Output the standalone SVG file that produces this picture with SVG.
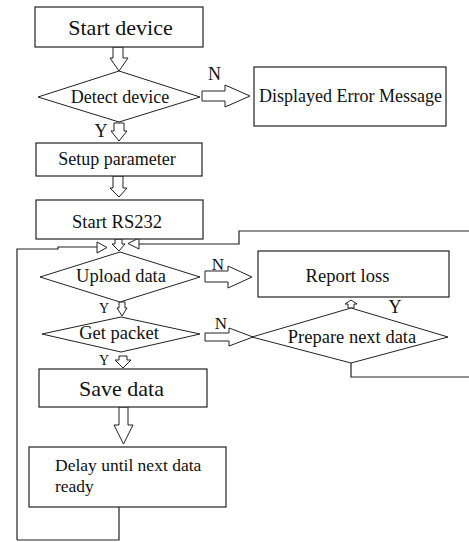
<svg xmlns="http://www.w3.org/2000/svg" width="469" height="542" viewBox="0 0 469 542">
<style>
.box{fill:#fff;stroke:#222;stroke-width:1.2}
.dia{fill:#fff;stroke:#222;stroke-width:1}
.arr{fill:#fff;stroke:#222;stroke-width:1;stroke-linejoin:miter}
.ln{fill:none;stroke:#222;stroke-width:1.2}
text{font-family:"Liberation Serif","Times New Roman",serif;fill:#111}
.c{text-anchor:middle}
</style>
<rect x="0" y="0" width="469" height="542" fill="#fff"/>
<g id="connectors">
<polygon class="arr" points="113,47 123,47 123,58 128,58 119,71 110,58 113,58"/>
<polygon class="arr" points="202,91 225,91 225,85 250,96 225,107 225,101 202,101"/>
<polygon class="arr" points="114,123 124,123 124,131 127,131 119,141 111,131 114,131"/>
<polygon class="arr" points="113,176 123,176 123,188 127,188 119,197 110,188 113,188"/>
<polygon class="arr" points="115,239 122,239 122,244 125,244 119,251 112,244 115,244"/>
<polyline class="ln" points="17,540 17,249 58,249 58,247 97,247"/>
<polygon class="arr" points="97,242 107,247.5 97,253"/>
<polyline class="ln" points="139,244 239,244 239,231 469,231"/>
<polygon class="arr" points="139,238 128,243.5 139,249"/>
<polygon class="arr" points="205,271 228,271 228,266 252,277 228,288 228,282 205,282"/>
<polygon class="arr" points="119,302 125,302 125,308 127,308 122,316 117,308 119,308"/>
<polygon class="arr" points="205,333 229,333 229,328 253,337 229,346 229,341 205,341"/>
<polygon class="arr" points="351,300 357,304 354,304 354,308 348,308 348,304 345,304"/>
<polyline class="ln" points="351,363 351,377 469,377"/>
<polygon class="arr" points="119,356 127,356 127,360 131,360 123,368 115,360 119,360"/>
<polygon class="arr" points="119,407 128,407 128,425 133,425 123.5,444 114,425 119,425"/>
<polyline class="ln" points="119,507 119,540 17,540"/>
<text x="214.5" y="80" class="c" font-size="18">N</text>
<text x="101" y="137" class="c" font-size="18">Y</text>
<text x="218" y="270" class="c" font-size="17">N</text>
<text x="104" y="313" class="c" font-size="14">Y</text>
<text x="221" y="329" class="c" font-size="17">N</text>
<text x="104" y="365" class="c" font-size="14">Y</text>
<text x="395" y="313" class="c" font-size="18">Y</text>
</g>
<g id="start-device">
<rect class="box" x="35" y="7" width="168" height="40"/>
<text x="120.5" y="35" class="c" font-size="22">Start device</text>
</g>
<g id="detect-device">
<polygon class="dia" points="119,71 200,97 119,122 38,97"/>
<text x="120" y="103" class="c" font-size="18">Detect device</text>
</g>
<g id="error-message">
<rect class="box" x="254" y="67" width="192" height="59"/>
<text x="350.5" y="102" class="c" font-size="18">Displayed Error Message</text>
</g>
<g id="setup-parameter">
<rect class="box" x="36" y="143" width="166" height="33"/>
<text x="117" y="165" class="c" font-size="18">Setup parameter</text>
</g>
<g id="start-rs232">
<rect class="box" x="36" y="200" width="167" height="39"/>
<text x="117" y="228" class="c" font-size="18.5">Start RS232</text>
</g>
<g id="upload-data">
<polygon class="dia" points="120,252 200,277 120,302 40,277"/>
<text x="121" y="282" class="c" font-size="18.5">Upload data</text>
</g>
<g id="report-loss">
<rect class="box" x="258" y="251" width="191" height="46"/>
<text x="347.5" y="282" class="c" font-size="18.5">Report loss</text>
</g>
<g id="get-packet">
<polygon class="dia" points="121,317 200,334 121,352 42,334"/>
<text x="119" y="339" class="c" font-size="18.5">Get packet</text>
</g>
<g id="prepare-next-data">
<polygon class="dia" points="351,308 448,337 351,363 252,337"/>
<text x="352" y="343" class="c" font-size="18.5">Prepare next data</text>
</g>
<g id="save-data">
<rect class="box" x="39" y="369" width="168" height="38"/>
<text x="121.5" y="396" class="c" font-size="22">Save data</text>
</g>
<g id="delay">
<rect class="box" x="29" y="447" width="197" height="60"/>
<text x="55" y="471" font-size="17.5">Delay until next data</text>
<text x="55" y="492" font-size="17.5">ready</text>
</g>
</svg>
